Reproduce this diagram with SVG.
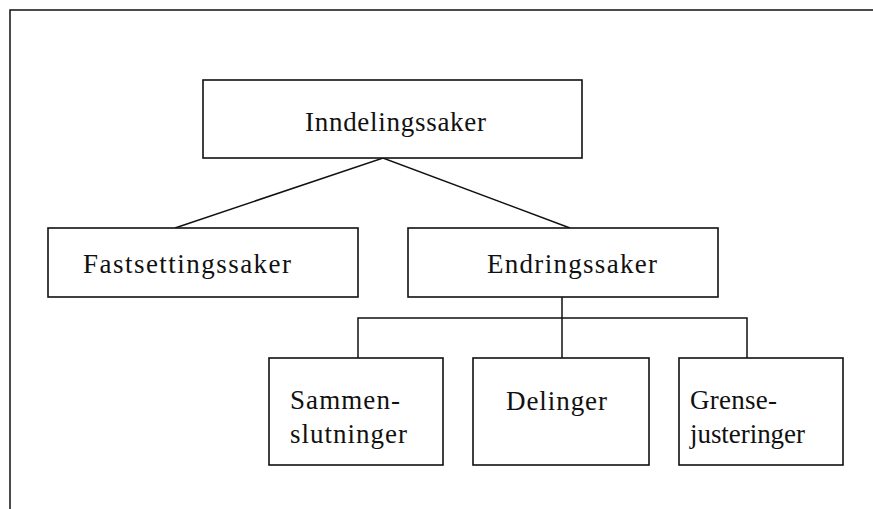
<svg xmlns="http://www.w3.org/2000/svg" width="873" height="509" viewBox="0 0 873 509">
<style>
.box{fill:#fff;stroke:#111;stroke-width:1.6}
.ln{fill:none;stroke:#111;stroke-width:1.5}
text{font-family:"Liberation Serif","Times New Roman",serif;font-size:27px;fill:#111}
</style>
<rect width="873" height="509" fill="#fff"/>
<g id="frame"><path class="ln" d="M10,509 V10 H873"/></g>
<g id="connectors">
<path class="ln" d="M175,228 L383,158 L570,228"/>
<path class="ln" d="M562,297 V318"/>
<path class="ln" d="M358,358 V318 H747 V358"/>
<path class="ln" d="M562,318 V358"/>
</g>
<g id="inndelingssaker"><rect class="box" x="203" y="80" width="379" height="78"/><text x="305" y="131" textLength="181" lengthAdjust="spacing">Inndelingssaker</text></g>
<g id="fastsettingssaker"><rect class="box" x="48" y="228" width="310" height="69"/><text x="83" y="273" textLength="208" lengthAdjust="spacing">Fastsettingssaker</text></g>
<g id="endringssaker"><rect class="box" x="408" y="228" width="310" height="69"/><text x="487" y="273" textLength="170" lengthAdjust="spacing">Endringssaker</text></g>
<g id="sammenslutninger"><rect class="box" x="269" y="358" width="174" height="107"/><text x="290" y="409" textLength="110" lengthAdjust="spacing">Sammen-</text><text x="290" y="443" textLength="117" lengthAdjust="spacing">slutninger</text></g>
<g id="delinger"><rect class="box" x="473" y="358" width="176" height="107"/><text x="506" y="410" textLength="101" lengthAdjust="spacing">Delinger</text></g>
<g id="grensejusteringer"><rect class="box" x="679" y="358" width="164" height="107"/><text x="690" y="409" textLength="87" lengthAdjust="spacing">Grense-</text><text x="690" y="443" textLength="115" lengthAdjust="spacing">justeringer</text></g>
</svg>
